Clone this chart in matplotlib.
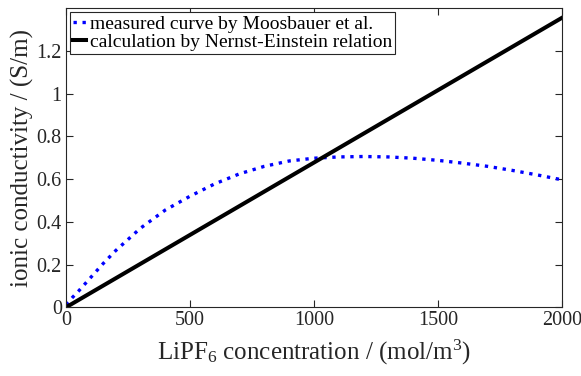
import numpy as np
import matplotlib
matplotlib.use("Agg")
import matplotlib.pyplot as plt

# concentration in mol/m^3 and conductivity
conc = [0, 25, 50, 100, 150, 200, 300, 400, 500, 600, 700, 800, 900, 1000,
        1100, 1200, 1300, 1400, 1500, 1600, 1700, 1800, 1900, 2000]
measured = [0.012, 0.045, 0.075, 0.14, 0.205, 0.265, 0.37, 0.455, 0.52, 0.578,
            0.625, 0.66, 0.685, 0.698, 0.704, 0.706, 0.704, 0.698, 0.688,
            0.675, 0.66, 0.641, 0.62, 0.597]
ne_conc = [0, 2000]
ne_cond = [0.0, 1.355]

plt.rcParams['font.family'] = ['Liberation Serif', 'DejaVu Serif']
plt.rcParams['mathtext.default'] = 'regular'
grey = '#262626'

fig = plt.figure(figsize=(5.81, 3.76), dpi=100)
ax = fig.add_axes([0.1136, 0.1827, 0.967 - 0.1136, 0.978 - 0.1827])

ax.plot(conc, measured, color='blue', linewidth=2.4, linestyle=(0, (1, 1.7)),
        dash_capstyle='butt', label='measured curve by Moosbauer et al.')
ax.plot(ne_conc, ne_cond, color='black', linewidth=2.9,
        label='calculation by Nernst-Einstein relation')

ax.set_xlim(0, 2000)
ax.set_ylim(0, 1.4)
ax.set_xticks([0, 500, 1000, 1500, 2000])
ax.set_yticks([0, 0.2, 0.4, 0.6, 0.8, 1.0, 1.2])
ax.set_yticklabels(['0', '0.2', '0.4', '0.6', '0.8', '1', '1.2'])
ax.tick_params(direction='in', top=True, right=True, labelsize=14.5,
               colors=grey, length=5, width=0.8, pad=3)
for s in ax.spines.values():
    s.set_color(grey)
    s.set_linewidth(0.8)

ax.set_xlabel('LiPF$_6$ concentration / (mol/m$^3$)', fontsize=18, color=grey, labelpad=5)
ax.set_ylabel('ionic conductivity / (S/m)', fontsize=18, color=grey, labelpad=2)

leg = ax.legend(loc='upper left', fontsize=14, handlelength=0.7, handletextpad=0.2,
                borderaxespad=0.2, borderpad=0.15, labelspacing=0.05,
                fancybox=False, framealpha=1)
leg.get_frame().set_edgecolor(grey)
leg.get_frame().set_linewidth(0.8)

fig.savefig('out.png', dpi=100)
